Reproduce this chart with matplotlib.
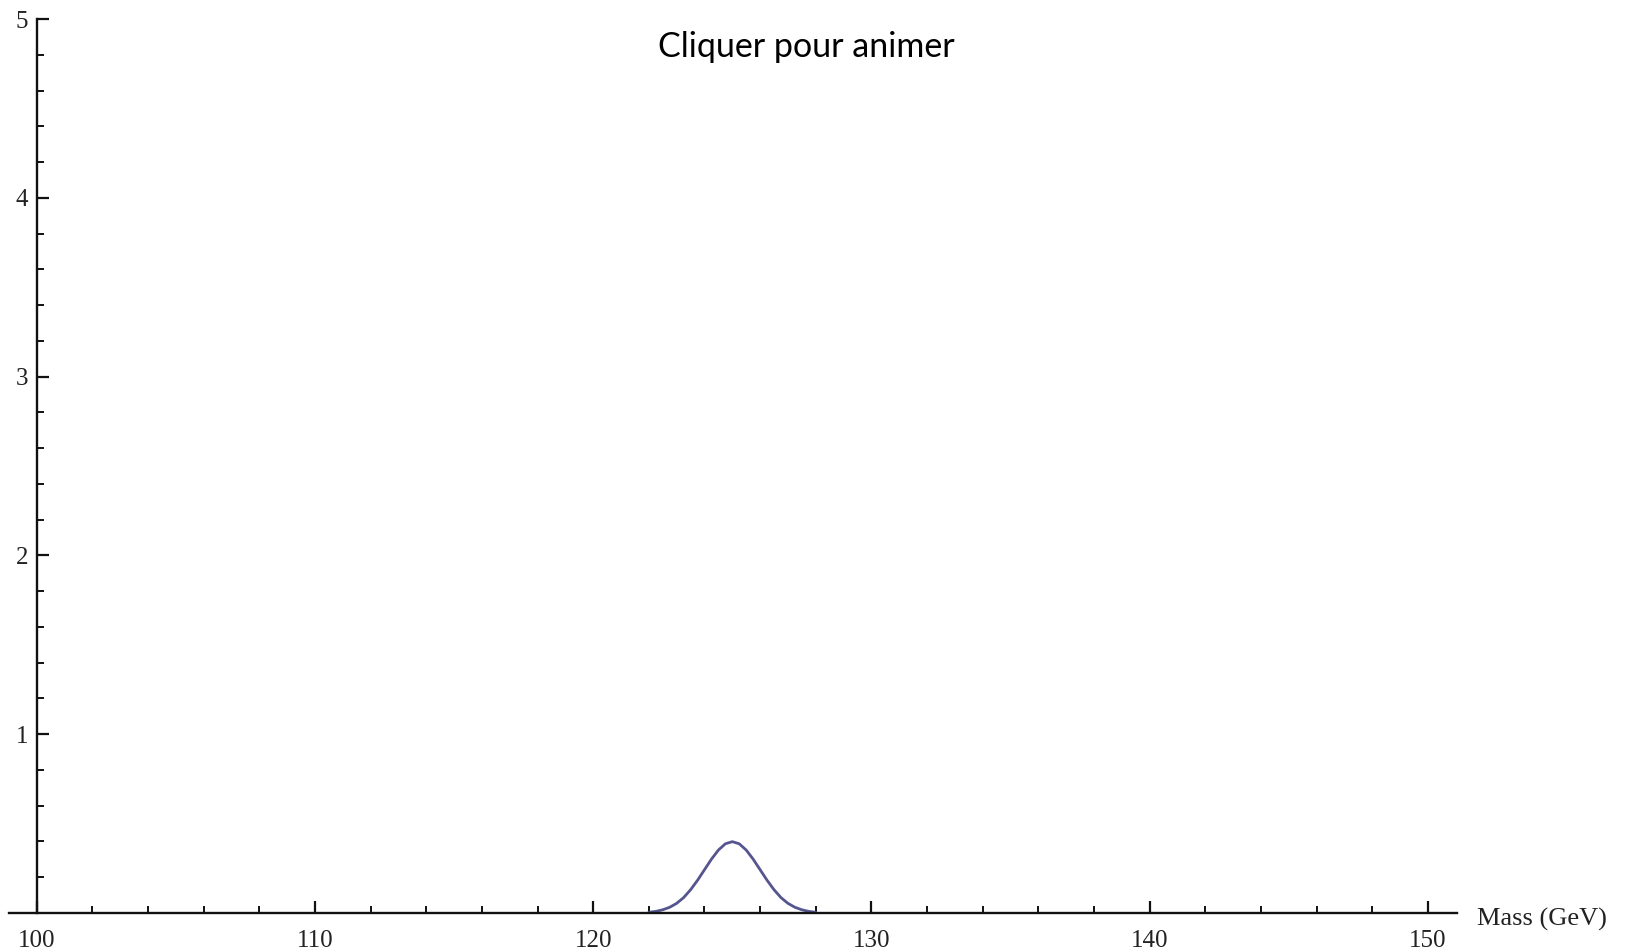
import numpy as np
import matplotlib
matplotlib.use("Agg")
import matplotlib.pyplot as plt
from matplotlib.ticker import FixedLocator

# Data (Gaussian-like peak near 125 GeV)
mass = [122.0, 122.25, 122.5, 122.75, 123.0, 123.25, 123.5, 123.75, 124.0, 124.25,
        124.5, 124.75, 125.0, 125.25, 125.5, 125.75, 126.0, 126.25, 126.5, 126.75,
        127.0, 127.25, 127.5, 127.75, 128.0]
signal = [0.004, 0.009, 0.018, 0.032, 0.054, 0.086, 0.130, 0.183, 0.242, 0.301,
          0.352, 0.387, 0.399, 0.387, 0.352, 0.301, 0.242, 0.183, 0.130, 0.086,
          0.054, 0.032, 0.018, 0.009, 0.004]

x_major = [100, 110, 120, 130, 140, 150]
x_labels = ["100", "110", "120", "130", "140", "150"]
y_major = [1, 2, 3, 4, 5]
y_labels = ["1", "2", "3", "4", "5"]

W, H = 1625, 952
fig = plt.figure(figsize=(W / 100, H / 100), dpi=100)
fig.patch.set_facecolor("white")

# axes: x from 99.0 (px 9) to 151.05 (px 1457); y 0 (px 913) to 5 (px 19)
left, right = 9 / W, 1457 / W
bottom, top = 1 - 913 / H, 1 - 19 / H
ax = fig.add_axes([left, bottom, right - left, top - bottom])
ax.set_xlim(99.0, 151.05)
ax.set_ylim(0, 5)
ax.patch.set_alpha(0)

line_color = "#55558f"
ax.plot(mass, signal, color=line_color, lw=2.0, solid_capstyle="round",
        solid_joinstyle="round", clip_on=False)

for s in ("top", "right"):
    ax.spines[s].set_visible(False)
ax.spines["left"].set_position(("data", 100))
ax.spines["bottom"].set_position(("data", 0))
for s in ("left", "bottom"):
    ax.spines[s].set_linewidth(1.7)
    ax.spines[s].set_color("#111111")

ax.xaxis.set_major_locator(FixedLocator(x_major))
ax.set_xticklabels(x_labels)
ax.xaxis.set_minor_locator(FixedLocator([v for v in range(100, 152, 2) if v % 10 != 0]))
ax.yaxis.set_major_locator(FixedLocator(y_major))
ax.set_yticklabels(y_labels)
ax.yaxis.set_minor_locator(FixedLocator([round(i * 0.2, 1) for i in range(1, 26) if i % 5 != 0]))

serif = ["Liberation Serif", "DejaVu Serif"]
ax.tick_params(axis="both", which="major", direction="in", length=8.5, width=1.6,
               color="#111111", labelsize=18, labelcolor="#222222")
ax.tick_params(axis="both", which="minor", direction="in", length=5, width=1.4, color="#111111")
ax.tick_params(axis="x", which="major", pad=12)
ax.tick_params(axis="y", which="major", pad=6)
for lab in ax.get_xticklabels() + ax.get_yticklabels():
    lab.set_family(serif)

fig.text(1477 / W, 1 - 919 / H, "Mass (GeV)", ha="left", va="center",
         fontsize=19, family=serif, color="#222222")

fig.text(806 / W, 1 - 47 / H, "Cliquer pour animer", ha="center", va="center",
         fontsize=24.5, family=["Lato", "DejaVu Sans"], color="black")

fig.savefig("out.png", dpi=100, facecolor="white")
